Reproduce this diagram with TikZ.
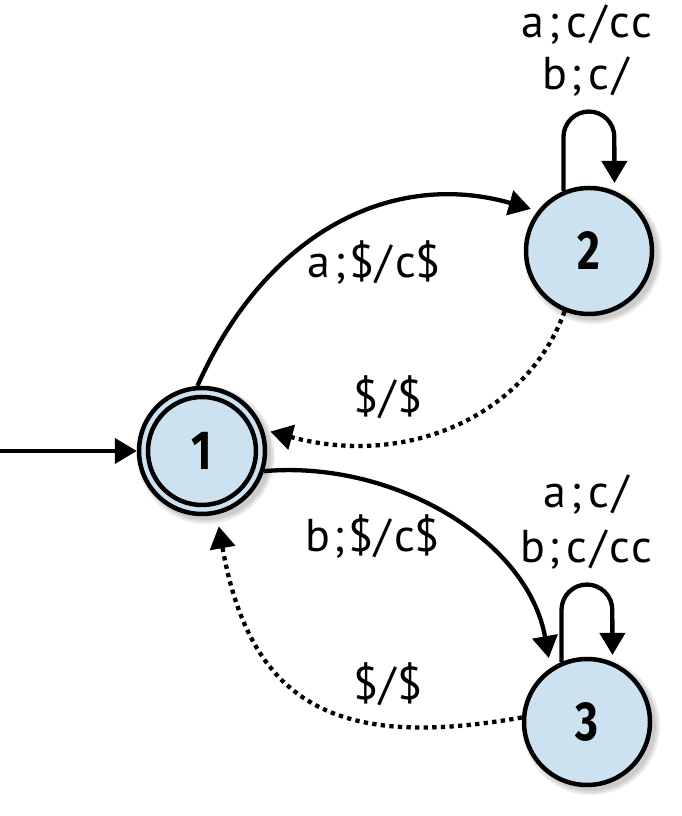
\documentclass[tikz,border=0pt]{standalone}
\usepackage{fontspec}
\setmainfont{PT Sans}
\newfontfamily\numfont{Fira Sans}[FakeStretch=0.8]
\usetikzlibrary{arrows.meta}
\definecolor{nodefill}{RGB}{205,226,240}
\newcommand\mchar[1]{\makebox[21.8pt][c]{#1}}
\def\mstr#1{\mstrloop#1\relax}
\def\mstrloop#1{\ifx\relax#1\else\mchar{#1}\expandafter\mstrloop\fi}
\tikzset{
  stnode/.style={circle, draw, line width=4.5pt, fill=nodefill, minimum size=126pt, inner sep=0pt,
    font=\numfont\bfseries\fontsize{55}{55}\selectfont},
  edge/.style={line width=4.3pt, -{Triangle[length=22pt,width=25pt]}},
  dotedge/.style={edge, dash pattern=on 4.3pt off 4.3pt},
  lbl/.style={anchor=base, inner sep=0pt, font=\fontsize{46}{52}\selectfont},
  shadowc/.style={fill=black, opacity=0.07}
}
\begin{document}
\begin{tikzpicture}[x=1pt,y=1pt]
\useasboundingbox (0,0) rectangle (682,816);
% soft shadows
\foreach \cx/\cy in {202/365, 589/565, 587/94}{
  \foreach \r in {65,67,69}{
    \fill[shadowc] (\cx+4,\cy-4) circle (\r);
  }
}
\node[stnode] (n1) at (202,365) {1};
\draw[line width=4.5pt] (n1.center) circle (54);
\node[stnode] (n2) at (589,565) {2};
\node[stnode] (n3) at (587,94) {3};
\coordinate (s) at (0,365);
% start arrow
\draw[edge] (s) -- (n1.west);
% 1 -> 2
\draw[edge, shorten >=7pt] (n1.94) .. controls +(66:170) and +(164:150) .. (n2.142);
% 2 -> 1
\draw[dotedge, shorten >=7pt] (n2.248) .. controls +(250:110) and +(-15:150) .. (n1.19);
% 1 -> 3
\draw[edge, shorten >=10pt] (n1.-18) .. controls +(5:130) and +(100:130) .. (n3.124);
% 3 -> 1
\draw[dotedge, shorten >=12pt] (n3.176) .. controls +(190:180) and +(-80:200) .. (n1.-77);
% loops
\draw[edge, shorten >=8pt] (n2.113) -- ++(0,54) arc[start angle=180, end angle=0, radius=25.4] -- (n2.67);
\draw[edge, shorten >=7pt] (n3.113) -- ++(0,52) arc[start angle=180, end angle=0, radius=25.4] -- (n3.67);
% labels
\node[lbl] (la) at (373,538) {\mstr{a;\$/c\$}};
\node[lbl] (lb) at (388,403) {\mstr{\$/\$}};
\node[lbl] (lc) at (372,264) {\mstr{b;\$/c\$}};
\node[lbl] (ld) at (388,116) {\mstr{\$/\$}};
\node[lbl] (l2a) at (587.5,778) {\mstr{a;c/cc}};
\node[lbl] (l2b) at (587.5,726) {\mstr{b;c/}};
\node[lbl] (l3a) at (587.5,308) {\mstr{a;c/}};
\node[lbl] (l3b) at (587.5,253) {\mstr{b;c/cc}};
\end{tikzpicture}
\end{document}
